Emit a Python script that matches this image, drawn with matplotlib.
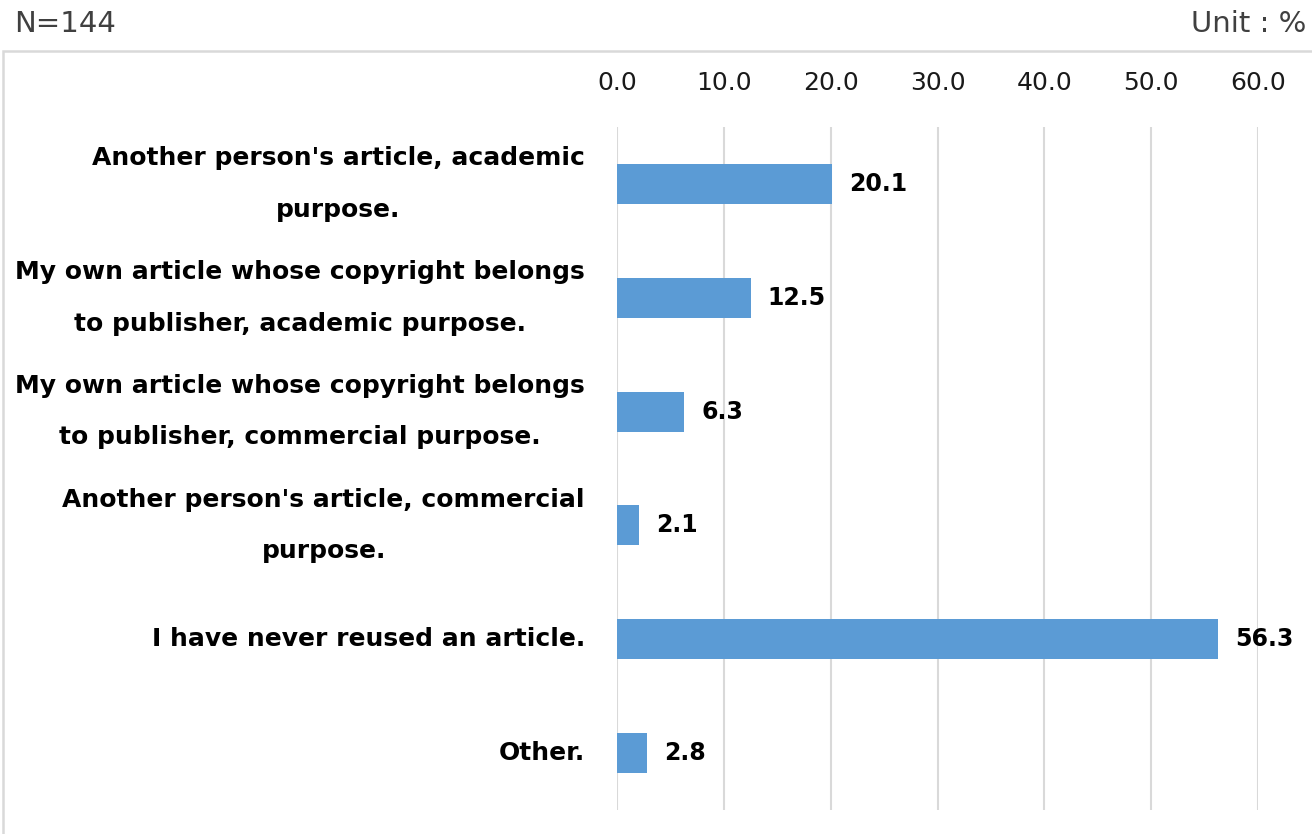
import matplotlib
matplotlib.use("Agg")
import matplotlib.pyplot as plt
from matplotlib.patches import Rectangle

categories = [
    "Another person's article, academic\npurpose.",
    "My own article whose copyright belongs\nto publisher, academic purpose.",
    "My own article whose copyright belongs\nto publisher, commercial purpose.",
    "Another person's article, commercial\npurpose.",
    "I have never reused an article.",
    "Other.",
]
values = [20.1, 12.5, 6.3, 2.1, 56.3, 2.8]
xticks = [0, 10, 20, 30, 40, 50, 60]

W, H = 1312, 834
fig = plt.figure(figsize=(W / 100, H / 100), dpi=100)
fig.patch.set_facecolor("white")

# outer chart border
fig.patches.append(Rectangle((3 / W, -0.01), 1.02, 1 - 51 / H + 0.01, transform=fig.transFigure,
                             fill=False, edgecolor="#d9d9d9", linewidth=1.8, zorder=0))

ax = fig.add_axes([617 / W, 1 - 810 / H, (1258 - 617) / W, (810 - 127) / H])
pos = list(range(len(categories)))
ax.barh(pos, values, height=0.35, color="#5b9bd5", zorder=3)
ax.set_ylim(len(categories) - 0.5, -0.5)
ax.set_xlim(0, 60)
ax.set_xticks(xticks)
ax.set_xticklabels([f"{t:.1f}" for t in xticks], fontsize=18, color="#1a1a1a")
ax.xaxis.tick_top()
ax.tick_params(axis="x", length=0, pad=23)
ax.set_yticks([])
for s in ax.spines.values():
    s.set_visible(False)
ax.grid(axis="x", color="#d9d9d9", linewidth=1.5, zorder=0)
ax.set_axisbelow(True)

for p, v, c in zip(pos, values, categories):
    ax.text(v + 1.6, p, f"{v:.1f}", va="center", ha="left", fontsize=17,
            fontweight="bold", color="black", clip_on=False)
    ax.text(-3, p, c, va="center", ha="right", multialignment="center",
            fontsize=18, fontweight="bold", color="black", linespacing=2.45,
            clip_on=False)

fig.text(14 / W, 1 - 24 / H, "N=144", fontsize=21, color="#404040", va="center", ha="left")
fig.text(1306 / W, 1 - 24 / H, "Unit : %", fontsize=21, color="#404040", va="center", ha="right")

fig.savefig("out.png", dpi=100)
